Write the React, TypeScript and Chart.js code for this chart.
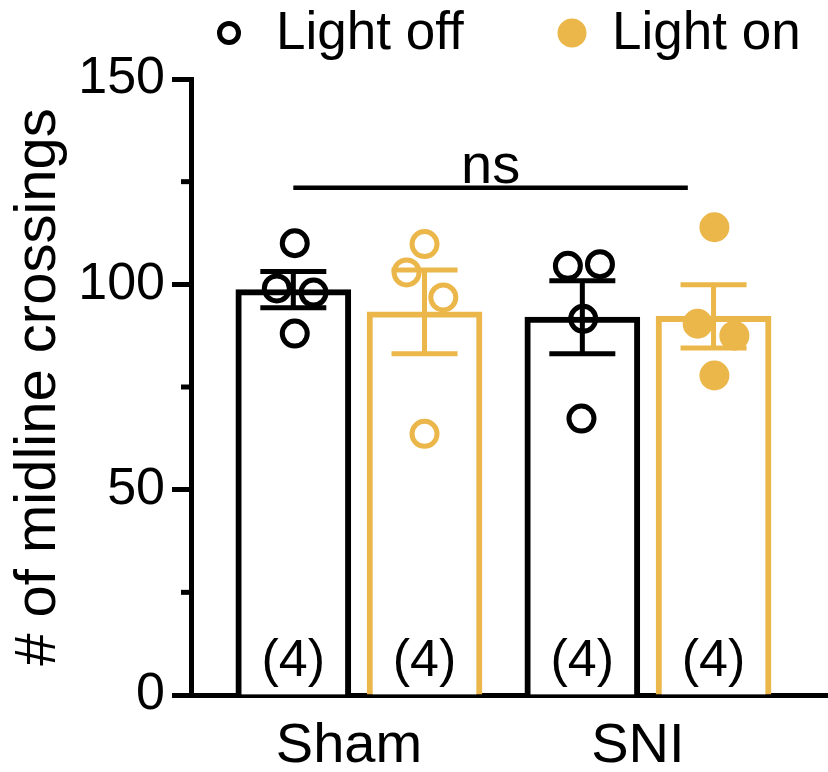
import React, { useEffect, useRef } from 'react';
import { Chart, registerables } from 'chart.js';

Chart.register(...registerables);

// ---- data ----
const groups = ['Sham', 'SNI'];
const seriesLabels = ['Light off', 'Light on'];
const barOffsets = [-0.227, 0.227];

const lightOffMeans = [98.7, 92.0];
const lightOnMeans = [93.3, 92.2];
const lightOffSem = [4.4, 8.9];
const lightOnSem = [10.2, 7.7];

const shamOffPoints = [110, 99, 98, 88];
const shamOffJitter = [0.005, -0.057, 0.07, 0.005];
const shamOnPoints = [109.8, 102.9, 96.8, 63.6];
const shamOnJitter = [0, -0.062, 0.065, 0];
const sniOffPoints = [104.5, 104.9, 91.6, 67.3];
const sniOffJitter = [-0.05, 0.061, 0.003, -0.003];
const sniOnPoints = [113.9, 90.4, 87.5, 77.8];
const sniOnJitter = [0.003, -0.055, 0.072, 0.003];

const lightOnFilled = [false, true];
const nCounts = [4, 4, 4, 4];

const yMin = 0;
const yMax = 150;
const yStep = 25;
const yLabelStep = 50;

const nsFrom = -0.227;
const nsTo = 1.138;
const nsValue = 123.5;
const nsLabel = 'ns';

// ---- styling ----
const BLACK = '#000000';
const GOLD = '#EBB74A';
const FONT = "'Liberation Sans', Arial, Helvetica, sans-serif";

const seriesColors = [BLACK, GOLD];
const semBySeries = [lightOffSem, lightOnSem];

const overlayPlugin = {
  id: 'overlay',
  afterDatasetDraw(chart: any, args: any) {
    if (args.index > 1) return;
    const ctx = chart.ctx;
    const y = chart.scales.y;
    const meta = chart.getDatasetMeta(args.index);
    const sems = semBySeries[args.index];
    const means = args.index === 0 ? lightOffMeans : lightOnMeans;
    ctx.save();
    ctx.strokeStyle = seriesColors[args.index];
    ctx.lineWidth = 5;
    ctx.lineCap = 'butt';
    meta.data.forEach((bar: any, i: number) => {
      const top = y.getPixelForValue(means[i] + sems[i]);
      const bot = y.getPixelForValue(means[i] - sems[i]);
      const x = bar.x;
      ctx.beginPath();
      ctx.moveTo(x, top);
      ctx.lineTo(x, bot);
      ctx.moveTo(x - 33, top);
      ctx.lineTo(x + 33, top);
      ctx.moveTo(x - 33, bot);
      ctx.lineTo(x + 33, bot);
      ctx.stroke();
    });
    ctx.restore();
  },
  afterDraw(chart: any) {
    const ctx = chart.ctx;
    const xs = chart.scales.x;
    const ys = chart.scales.y;
    const area = chart.chartArea;
    ctx.save();

    // minor y ticks
    ctx.strokeStyle = BLACK;
    ctx.lineWidth = 5;
    ys.ticks.forEach((t: any) => {
      if (t.value % yLabelStep !== 0) {
        const py = ys.getPixelForValue(t.value);
        ctx.beginPath();
        ctx.moveTo(area.left - 10, py);
        ctx.lineTo(area.left, py);
        ctx.stroke();
      }
    });

    // n labels
    ctx.fillStyle = BLACK;
    ctx.font = `52px ${FONT}`;
    ctx.textAlign = 'center';
    ctx.textBaseline = 'middle';
    let k = 0;
    for (let g = 0; g < groups.length; g++) {
      for (let s = 0; s < 2; s++) {
        const bar = chart.getDatasetMeta(s).data[g];
        ctx.fillText(`(${nCounts[k]})`, bar.x, ys.getPixelForValue(0) - 33);
        k++;
      }
    }

    // ns bracket
    const ny = ys.getPixelForValue(nsValue);
    const x1 = xs.getPixelForValue(nsFrom);
    const x2 = xs.getPixelForValue(nsTo);
    ctx.lineWidth = 4.5;
    ctx.beginPath();
    ctx.moveTo(x1, ny);
    ctx.lineTo(x2, ny);
    ctx.stroke();
    ctx.font = `56px ${FONT}`;
    ctx.textBaseline = 'alphabetic';
    ctx.fillText(nsLabel, (x1 + x2) / 2, ny - 5);

    // legend
    ctx.textAlign = 'left';
    ctx.textBaseline = 'middle';
    ctx.font = `53px ${FONT}`;
    ctx.beginPath();
    ctx.lineWidth = 5;
    ctx.strokeStyle = BLACK;
    ctx.arc(229, 33, 9.5, 0, Math.PI * 2);
    ctx.stroke();
    ctx.fillStyle = BLACK;
    ctx.fillText(seriesLabels[0], 276, 34);
    ctx.beginPath();
    ctx.fillStyle = GOLD;
    ctx.arc(572, 33, 14.5, 0, Math.PI * 2);
    ctx.fill();
    ctx.fillStyle = BLACK;
    ctx.fillText(seriesLabels[1], 612, 34);

    ctx.restore();
  },
};

function pointsFor(values: number[], jitter: number[], gi: number, si: number) {
  return values.map((v, i) => ({ x: gi + barOffsets[si] + jitter[i], y: v }));
}

export default function App() {
  const ref = useRef<HTMLCanvasElement | null>(null);

  useEffect(() => {
    if (!ref.current) return;
    const offPts = [
      ...pointsFor(shamOffPoints, shamOffJitter, 0, 0),
      ...pointsFor(sniOffPoints, sniOffJitter, 1, 0),
    ];
    const onPts = [
      ...pointsFor(shamOnPoints, shamOnJitter, 0, 1),
      ...pointsFor(sniOnPoints, sniOnJitter, 1, 1),
    ];
    const onFill = [
      ...shamOnPoints.map(() => (lightOnFilled[0] ? GOLD : 'rgba(0,0,0,0)')),
      ...sniOnPoints.map(() => (lightOnFilled[1] ? GOLD : 'rgba(0,0,0,0)')),
    ];

    const chart = new Chart(ref.current, {
      type: 'bar',
      data: {
        datasets: [
          {
            type: 'bar',
            label: seriesLabels[0],
            data: lightOffMeans.map((m, i) => ({ x: i + barOffsets[0], y: m })),
            backgroundColor: '#ffffff',
            borderColor: BLACK,
            borderWidth: 6,
            barThickness: 115,
            grouped: false,
            order: 2,
          } as any,
          {
            type: 'bar',
            label: seriesLabels[1],
            data: lightOnMeans.map((m, i) => ({ x: i + barOffsets[1], y: m })),
            backgroundColor: '#ffffff',
            borderColor: GOLD,
            borderWidth: 6,
            barThickness: 115,
            grouped: false,
            order: 2,
          } as any,
          {
            type: 'scatter',
            label: seriesLabels[0] + ' points',
            data: offPts,
            pointRadius: 12.5,
            pointBorderWidth: 5,
            pointBorderColor: BLACK,
            pointBackgroundColor: 'rgba(0,0,0,0)',
            order: 1,
          } as any,
          {
            type: 'scatter',
            label: seriesLabels[1] + ' points',
            data: onPts,
            pointRadius: 12.5,
            pointBorderWidth: 5,
            pointBorderColor: GOLD,
            pointBackgroundColor: onFill,
            order: 1,
          } as any,
        ],
      },
      options: {
        animation: false,
        responsive: true,
        maintainAspectRatio: false,
        layout: { autoPadding: false, padding: { top: 79, left: 0, right: 0, bottom: 0 } },
        plugins: {
          legend: { display: false },
          tooltip: { enabled: false },
        },
        scales: {
          x: {
            type: 'linear',
            position: 'bottom',
            offset: false,
            min: -0.581,
            max: 1.623,
            grid: { display: false, drawTicks: false },
            border: { display: true, width: 5, color: BLACK },
            ticks: {
              autoSkip: false,
              padding: 18,
              labelOffset: -10,
              color: BLACK,
              font: { size: 56, family: FONT },
              callback: (v: any) => groups[v] ?? '',
            },
            afterBuildTicks: (scale: any) => {
              scale.ticks = groups.map((_, i) => ({ value: i }));
            },
            afterFit: (scale: any) => {
              scale.height = 77;
              scale.paddingLeft = 0;
              scale.paddingRight = 0;
            },
          },
          y: {
            type: 'linear',
            min: yMin,
            max: yMax,
            grid: {
              drawOnChartArea: false,
              drawTicks: true,
              tickLength: 19,
              tickWidth: 5,
              tickColor: (c: any) =>
                c.tick && c.tick.value % yLabelStep === 0 ? BLACK : 'rgba(0,0,0,0)',
            },
            border: { display: true, width: 5, color: BLACK },
            ticks: {
              stepSize: yStep,
              autoSkip: false,
              padding: 7,
              color: BLACK,
              font: { size: 52, family: FONT },
              callback: (v: any) => (v % yLabelStep === 0 ? String(v) : ''),
            },
            title: {
              display: true,
              text: '# of midline crossings',
              color: BLACK,
              font: { size: 58, family: FONT },
              padding: { top: 4, bottom: 0 },
            },
            afterFit: (scale: any) => {
              scale.width = 191;
              scale.paddingTop = 0;
              scale.paddingBottom = 0;
            },
          },
        },
      } as any,
      plugins: [overlayPlugin],
    });
    return () => chart.destroy();
  }, []);

  return (
    <div style={{ position: 'fixed', left: 0, top: 0, width: 828, height: 772, background: '#fff' }}>
      <canvas ref={ref} />
    </div>
  );
}
